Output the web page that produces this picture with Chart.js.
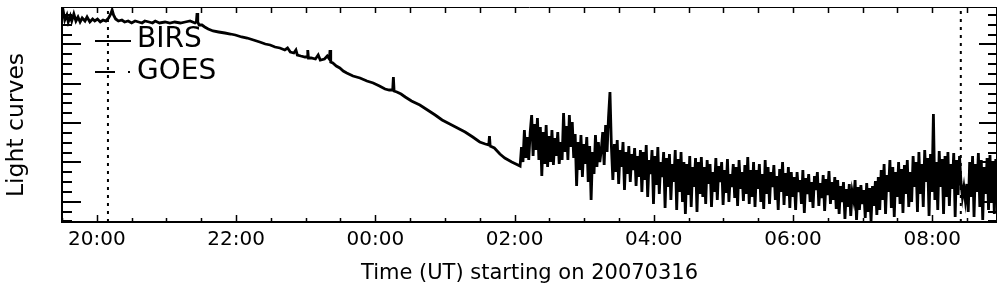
<!DOCTYPE html>
<html><head><meta charset="utf-8">
<script src="https://cdn.jsdelivr.net/npm/chart.js@4"></script>
<style>html,body{margin:0;padding:0;background:#fff;}#wrap{width:1004px;height:296px;}</style>
</head><body><div id="wrap"><canvas id="c" width="1004" height="296"></canvas></div>
<script>
// ---- data (time in decimal UT hours since 00:00 of 20070316; values in arbitrary units) ----
const seriesNames = ['BIRS', 'GOES'];
const xTitle = 'Time (UT) starting on 20070316';
const yTitle = 'Light curves';
const xMin = 19.5, xMax = 32.93;
const yMin = 0, yMax = 215;

// slowly varying part of BIRS curve (19:30 - 02:05)
const smoothTimes = [
  19.50,19.52,19.54,19.57,19.59,19.62,19.64,19.67,19.70,19.73,
  19.76,19.79,19.83,19.86,19.90,19.94,19.97,20.01,20.05,20.09,
  20.13,20.17,20.20,20.22,20.24,20.27,20.31,20.36,20.40,20.45,
  20.50,20.55,20.60,20.65,20.69,20.75,20.80,20.84,20.90,20.98,
  21.05,21.12,21.20,21.27,21.34,21.41,21.43,21.44,21.45,21.47,
  21.51,21.55,21.60,21.67,21.75,21.84,21.92,21.99,22.08,22.16,
  22.25,22.34,22.42,22.49,22.56,22.63,22.70,22.74,22.78,22.83,
  22.86,22.88,22.93,22.99,23.02,23.03,23.04,23.08,23.14,23.18,
  23.21,23.27,23.31,23.34,23.35,23.36,23.39,23.44,23.49,23.54,
  23.59,23.68,23.78,23.88,23.97,24.06,24.14,24.20,24.25,24.26,
  24.27,24.31,24.37,24.43,24.52,24.64,24.75,24.86,24.96,25.07,
  25.18,25.29,25.40,25.50,25.58,25.63,25.64,25.65,25.71,25.79,
  25.86,25.96,26.08];
const smoothValues = [
  204,210,202,207,200,206,201,208,201,205,
  200,204,201,205,200,203,201,203,200,202,
  201,204,208,212,207,203,201,202,200,201,
  199,201,200,199,201,200,199,201,199,200,
  199,200,199,200,201,199,200,209,200,197,
  197,195,193,191,190,189,188,187,185,184,
  182,180,178,177,175,174,172,174,170,169,
  172,167,166,165,165,172,164,164,163,167,
  162,163,166,163,172,160,159,156,154,151,
  149,146,144,141,139,136,133,132,132,145,
  131,130,128,125,121,117,112,107,102,98,
  94,90,85,80,78,77,86,76,74,68,
  64,60,56];

// noisy part of BIRS curve, sampled every 1.25 min from 02:06
const noiseStart = 26.10;
const noiseStepMin = 1.25;
const noiseValues = [
  75,60,92,64,85,62,90,
  107,66,98,72,104,62,95,
  46,90,58,97,55,86,60,
  92,57,84,66,90,58,80,
  62,109,70,96,62,107,75,100,64,88,
  36,80,52,87,45,78,58,85,40,76,
  22,70,48,87,55,80,60,
  72,90,57,97,70,105,130,75,
  42,78,50,82,38,72,55,80,32,70,48,76,40,68,52,74,36,66,45,72,
  30,70,42,77,25,62,48,72,18,66,37,75,28,60,45,70,14,64,35,68,22,58,40,72,12,63,30,
  70,20,60,8,58,27,66,15,55,35,64,10,60,28,
  65,25,55,18,62,38,58,15,50,30,64,22,56,40,60,17,52,29,63,20,48,35,58,24,55,16,62,33,50,21,57,28,65,18,52,
  25,60,15,52,33,58,20,48,13,62,28,55,18,50,35,57,22,46,12,53,30,60,17,49,26,55,14,50,
  25,45,12,50,30,42,18,52,9,44,28,48,20,40,14,46,32,50,16,39,24,47,11,43,27,51,18,40,22,45,13,42,
  8,36,20,40,3,33,15,38,6,30,22,42,2,35,12,37,18,32,4,39,10,34,1,36,16,41,7,45,
  12,52,22,58,8,47,30,62,14,55,5,50,25,60,18,53,9,57,28,62,15,50,
  20,66,35,60,10,70,28,58,15,72,40,64,6,68,30,108,22,60,12,71,35,63,8,66,25,70,16,58,33,69,5,62,27,66,
  40,25,35,22,38,
  10,60,25,66,5,58,30,69,15,62,2,55,28,64,12,67,20,59,8,63
];
const goesTimes = [];
const goesValues = [];
const markerTimes = [20.16, 32.41];

// ---- build datasets ----
const birs = smoothTimes.map((t, i) => ({x: t, y: smoothValues[i]}));
noiseValues.forEach((v, i) => birs.push({x: noiseStart + i * noiseStepMin / 60, y: v}));
const goes = goesTimes.map((t, i) => ({x: t, y: goesValues[i]}));

const FONT = 'DejaVu Sans';

const frameTicks = {
  id: 'frameTicks',
  afterDatasetsDraw(chart) {
    const {ctx, chartArea: a, scales: {x, y}} = chart;
    ctx.save();
    ctx.strokeStyle = '#000';
    ctx.lineCap = 'butt';
    // y ticks (left & right, inward)
    ctx.lineWidth = 2;
    const yStep = 9.825, yStart = 0.65;
    for (let k = 0; yStart + k * yStep <= yMax; k++) {
      const py = Math.round(y.getPixelForValue(yStart + k * yStep));
      const major = (k % 4) === 2;
      ctx.beginPath();
      ctx.moveTo(a.left, py); ctx.lineTo(a.left + (major ? 19 : 10), py);
      ctx.moveTo(a.right, py); ctx.lineTo(a.right - (major ? 18 : 9), py);
      ctx.stroke();
    }
    // x ticks (bottom & top, inward)
    ctx.lineWidth = 1.5;
    for (let t = 19.5; t <= xMax + 1e-6; t += 0.5) {
      const px = Math.round(x.getPixelForValue(t)) + 0.5;
      const major = Math.abs(t - Math.round(t)) < 1e-6 && Math.round(t) % 2 === 0;
      ctx.beginPath();
      ctx.moveTo(px, a.bottom); ctx.lineTo(px, a.bottom - (major ? 7 : 4));
      ctx.moveTo(px, a.top); ctx.lineTo(px, a.top + 6);
      ctx.stroke();
    }
    // frame
    ctx.lineWidth = 2;
    ctx.beginPath();
    ctx.moveTo(a.left, a.top); ctx.lineTo(a.left, a.bottom); ctx.lineTo(a.right, a.bottom);
    ctx.stroke();
    ctx.lineWidth = 1;
    ctx.beginPath();
    ctx.moveTo(a.left, a.top + 0.5); ctx.lineTo(a.right, a.top + 0.5);
    ctx.moveTo(a.right - 0.5, a.top); ctx.lineTo(a.right - 0.5, a.bottom);
    ctx.stroke();
    // legend
    ctx.fillStyle = '#000';
    ctx.font = '28px "' + FONT + '"';
    ctx.textBaseline = 'alphabetic';
    ctx.textAlign = 'left';
    ctx.lineWidth = 2;
    const lx = a.left + 33;
    ctx.beginPath(); ctx.moveTo(lx, 41); ctx.lineTo(lx + 36, 41); ctx.stroke();
    ctx.fillText(chart.data.datasets[0].label, lx + 42, 47);
    ctx.beginPath(); ctx.moveTo(lx, 72); ctx.lineTo(lx + 20, 72);
    ctx.moveTo(lx + 33, 72); ctx.lineTo(lx + 35, 72); ctx.stroke();
    ctx.fillText(chart.data.datasets[1].label, lx + 42, 79);
    // y-axis title
    ctx.save();
    ctx.translate(17, 125);
    ctx.rotate(-Math.PI / 2);
    ctx.font = '23.5px "' + FONT + '"';
    ctx.textAlign = 'center';
    ctx.textBaseline = 'middle';
    ctx.fillText(yTitle, 0, 0);
    ctx.restore();
    ctx.restore();
  }
};

const markerSets = markerTimes.map(t => ({
  label: 'marker', data: [{x: t, y: yMin}, {x: t, y: yMax}],
  borderColor: '#000', borderWidth: 2, borderDash: [3, 5], pointRadius: 0, fill: false
}));

new Chart(document.getElementById('c'), {
  type: 'line',
  data: {
    datasets: [
      {label: seriesNames[0], data: birs, borderColor: '#000', borderWidth: 2.8, pointRadius: 0, tension: 0, fill: false},
      {label: seriesNames[1], data: goes, borderColor: '#000', borderWidth: 2, borderDash: [20, 13, 2, 13], pointRadius: 0, fill: false},
      ...markerSets
    ]
  },
  options: {
    responsive: false, animation: false, devicePixelRatio: 1,
    layout: {padding: {left: 0, right: 7, top: 7, bottom: 0}},
    plugins: {legend: {display: false}, tooltip: {enabled: false}},
    scales: {
      x: {
        type: 'linear', min: xMin, max: xMax,
        grid: {display: false, drawTicks: false}, border: {display: false},
        ticks: {
          stepSize: 0.5, autoSkip: false, maxRotation: 0, color: '#000', padding: 6,
          font: {family: FONT, size: 20},
          callback: v => {
            const r = Math.round(v);
            if (Math.abs(v - r) > 1e-6 || r % 2 !== 0) return '';
            return String(r % 24).padStart(2, '0') + ':00';
          }
        },
        title: {display: true, text: xTitle, color: '#000', font: {family: FONT, size: 21}, padding: {top: 0, bottom: 10}},
        afterFit: s => { s.height = 74; }
      },
      y: {
        min: yMin, max: yMax,
        grid: {display: false, drawTicks: false}, border: {display: false},
        ticks: {display: false},
        title: {display: false},
        afterFit: s => { s.width = 62; }
      }
    }
  },
  plugins: [frameTicks]
});
</script>
</body></html>
